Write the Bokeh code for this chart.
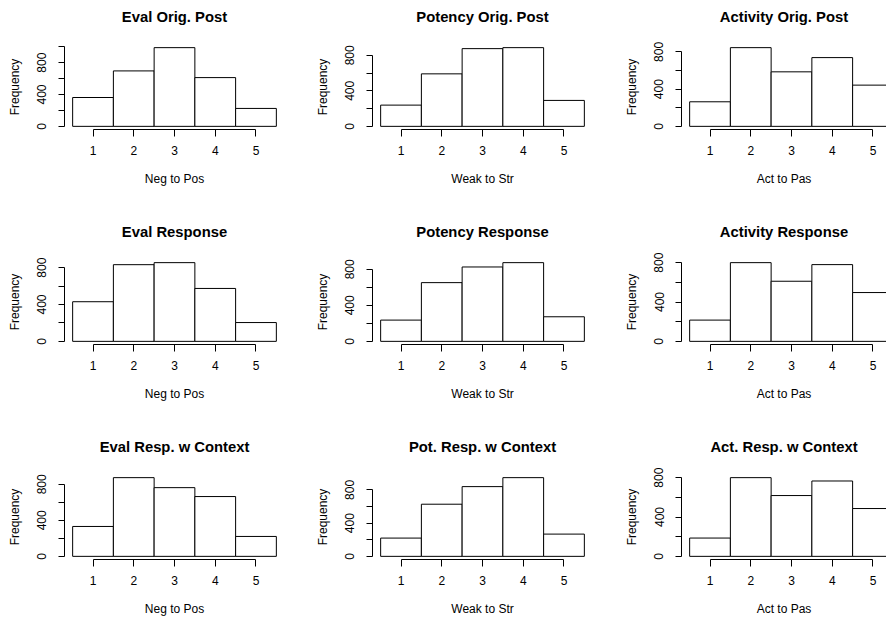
import math
from bokeh.plotting import figure
from bokeh.layouts import column, row
from bokeh.models import Range1d, FixedTicker, ColumnDataSource, LinearAxis
from bokeh.embed import file_html
from bokeh.resources import INLINE

# ---------------- data ----------------
bins = [1, 2, 3, 4, 5]

eval_orig = [362, 696, 988, 612, 225]
pot_orig = [239, 591, 875, 886, 292]
act_orig = [264, 846, 586, 739, 443]

eval_resp = [430, 832, 854, 574, 204]
pot_resp = [236, 652, 826, 874, 273]
act_resp = [216, 800, 611, 780, 496]

eval_ctx = [332, 874, 763, 664, 221]
pot_ctx = [220, 628, 840, 948, 268]
act_ctx = [186, 800, 618, 766, 486]

titles = [
    ["Eval Orig. Post", "Potency Orig. Post", "Activity Orig. Post"],
    ["Eval Response", "Potency Response", "Activity Response"],
    ["Eval Resp. w Context", "Pot. Resp. w Context", "Act. Resp. w Context"],
]
xlabels = ["Neg to Pos", "Weak to Str", "Act to Pas"]
ylabel = "Frequency"
y_tick_step = 200
y_label_every = 400

data = [
    [eval_orig, pot_orig, act_orig],
    [eval_resp, pot_resp, act_resp],
    [eval_ctx, pot_ctx, act_ctx],
]

# ---------------- layout / style ----------------
FONT = "Liberation Sans"
col_left = [64, 62, 63]
col_width = [310, 308, 268]
row_height = [215, 215, 189]
FRAME_W = 220
FRAME_H = 85
TOP = 44
PX_PER_UNIT = FRAME_W / 5.4


def make(i, j):
    counts = data[i][j]
    w = col_width[j]
    h = row_height[i]
    left = col_left[j]
    frame_w = min(FRAME_W, w - left)
    right = w - left - frame_w
    bottom = h - TOP - FRAME_H
    lo = min(bins) - 0.5
    hi = max(bins) + 0.5
    pad = 0.04 * (hi - lo)
    x0 = lo - pad
    x1 = x0 + frame_w / PX_PER_UNIT
    ymax = max(counts)
    p = figure(
        width=w, height=h,
        x_range=Range1d(x0, x1),
        y_range=Range1d(-0.04 * ymax, 1.04 * ymax),
        output_backend="svg", toolbar_location=None,
        min_border_left=left, min_border_right=right,
        min_border_top=TOP, min_border_bottom=bottom,
        background_fill_color="white", border_fill_color="white",
        outline_line_color=None,
    )
    p.grid.visible = False
    p.title.visible = False

    src = ColumnDataSource(dict(
        left=[b - 0.5 for b in bins],
        right=[b + 0.5 for b in bins],
        top=counts,
        bottom=[0] * len(bins),
    ))
    p.quad(left="left", right="right", top="top", bottom="bottom", source=src,
           fill_color="white", line_color="black", line_width=1)

    # axes (take references before adding the title axis)
    xa = p.below[0]
    ya = p.left[0]

    # title as the label of a bare axis above, centred on the full plot region
    tax = LinearAxis(
        ticker=FixedTicker(ticks=[]), bounds=(min(bins), max(bins)),
        axis_label=titles[i][j],
        axis_line_color=None, major_tick_line_color=None, minor_tick_line_color=None,
        major_tick_out=0, major_tick_in=0, minor_tick_out=0, minor_tick_in=0,
        major_label_standoff=0, major_label_text_font_size="0px",
        axis_label_standoff=20,
        axis_label_text_font=FONT, axis_label_text_font_size="14.8px",
        axis_label_text_font_style="bold", axis_label_text_color="black",
    )
    p.add_layout(tax, "above")

    yt = [t for t in range(0, int(1.04 * ymax) + 1, y_tick_step)]
    xa.ticker = FixedTicker(ticks=bins)
    xa.bounds = (min(bins), max(bins))
    ya.ticker = FixedTicker(ticks=yt)
    ya.bounds = (0, yt[-1])
    ya.major_label_overrides = {t: "" for t in yt if t % y_label_every != 0}
    ya.major_label_orientation = "vertical"
    xa.axis_label = xlabels[j]
    ya.axis_label = ylabel
    for ax in (xa, ya):
        ax.axis_line_color = "black"
        ax.axis_line_width = 1
        ax.major_tick_line_color = "black"
        ax.major_tick_in = 0
        ax.minor_tick_line_color = None
        ax.major_label_text_font = FONT
        ax.major_label_text_font_size = "12px"
        ax.major_label_text_color = "black"
        ax.axis_label_text_font = FONT
        ax.axis_label_text_font_size = "12px"
        ax.axis_label_text_font_style = "normal"
        ax.axis_label_text_color = "black"
    xa.major_tick_out = 7
    xa.major_label_standoff = 9
    xa.axis_label_standoff = 14
    ya.major_tick_out = 6
    ya.major_label_standoff = 12
    ya.axis_label_standoff = 13
    return p


rows = []
for i in range(3):
    rows.append(row(*[make(i, j) for j in range(3)]))
layout = column(*rows)

open("out.html", "w").write(file_html(layout, INLINE))
